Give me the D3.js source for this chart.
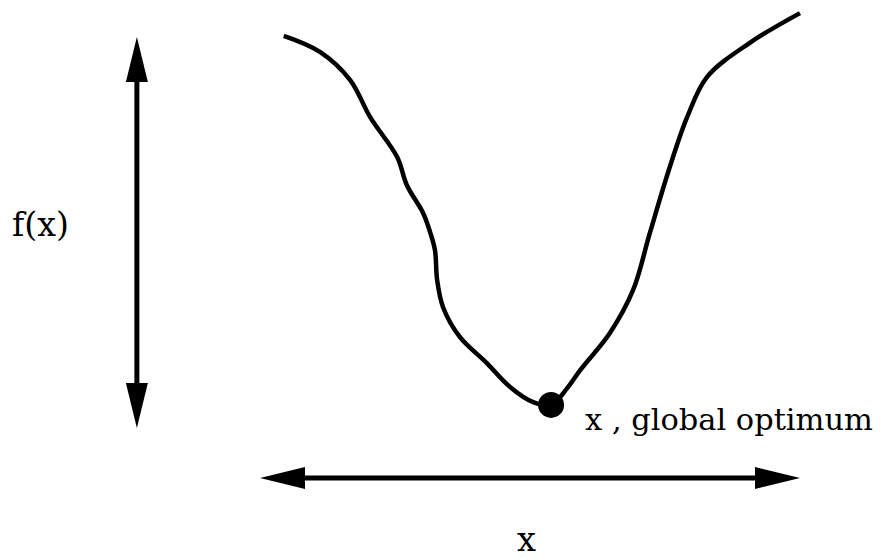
<!DOCTYPE html>
<html lang="en">
<head>
  <meta charset="UTF-8">
  <title>Global optimum</title>
  <script src="https://d3js.org/d3.v7.min.js"></script>
  <style>
    body { margin: 0; background: #fff; }
  </style>
</head>
<body>
  <svg id="chart" width="882" height="559"></svg>
  <script>
    // curve samples, in plot units (x: 0..10, f: 0..10)
    const xs = [0.44, 1.11, 1.67, 2.04, 2.54, 2.72, 3.02, 3.15, 3.24, 3.28, 3.39, 3.70, 4.20, 4.63, 5.06, 5.39,
                5.69, 5.93, 6.48, 6.91, 7.22, 7.59, 7.91, 8.28, 9.07, 10.0];
    const fs = [10.03, 9.62, 8.90, 7.95, 6.93, 6.21, 5.50, 5.01, 4.55, 3.79, 3.09, 2.33, 1.66, 1.05, 0.66, 0.59,
                1.02, 1.48, 2.43, 3.53, 4.99, 6.68, 7.95, 8.98, 9.85, 10.61];
    const optimum = { x: 5.39, f: 0.59 };
    const labels = { y: "f(x)", x: "x", opt: "x , global optimum" };

    const serif = "'DejaVu Serif', 'Liberation Serif', serif";

    const svg = d3.select("svg#chart");
    const xScale = d3.scaleLinear().domain([0, 10]).range([260, 800]);
    const yScale = d3.scaleLinear().domain([0, 10]).range([428, 37]);

    // where the two arrows sit
    const vArrowX = -2.28;
    const hArrowY = -1.28;

    const line = d3.line()
      .x((d, i) => xScale(xs[i]))
      .y((d, i) => yScale(fs[i]))
      .curve(d3.curveCatmullRom.alpha(0.5));

    svg.append("path")
      .attr("d", line(xs))
      .attr("fill", "none")
      .attr("stroke", "#000")
      .attr("stroke-width", 4.5);

    // vertical double arrow (f axis)
    const ax = xScale(vArrowX);
    const yTop = yScale(10), yBot = yScale(0);
    const headL = 45, headW = 11;
    svg.append("line")
      .attr("x1", ax).attr("x2", ax)
      .attr("y1", yTop + headL - 2).attr("y2", yBot - headL + 2)
      .attr("stroke", "#000").attr("stroke-width", 5);
    svg.append("path")
      .attr("d", `M${ax},${yTop} L${ax + headW},${yTop + headL} L${ax - headW},${yTop + headL} Z`)
      .attr("fill", "#000");
    svg.append("path")
      .attr("d", `M${ax},${yBot} L${ax + headW},${yBot - headL} L${ax - headW},${yBot - headL} Z`)
      .attr("fill", "#000");

    // horizontal double arrow (x axis)
    const ay = yScale(hArrowY);
    const xL = xScale(0), xR = xScale(10);
    svg.append("line")
      .attr("x1", xL + headL - 2).attr("x2", xR - headL + 2)
      .attr("y1", ay).attr("y2", ay)
      .attr("stroke", "#000").attr("stroke-width", 5);
    svg.append("path")
      .attr("d", `M${xL},${ay} L${xL + headL},${ay - headW} L${xL + headL},${ay + headW} Z`)
      .attr("fill", "#000");
    svg.append("path")
      .attr("d", `M${xR},${ay} L${xR - headL},${ay - headW} L${xR - headL},${ay + headW} Z`)
      .attr("fill", "#000");

    // optimum
    svg.append("circle")
      .attr("cx", xScale(optimum.x))
      .attr("cy", yScale(optimum.f))
      .attr("r", 13)
      .attr("fill", "#000");

    // text sized so it spans the same width as in the original
    function label(str, x, y, width) {
      const t = svg.append("text")
        .attr("x", x)
        .attr("y", y)
        .style("font-family", serif)
        .style("font-size", "32px")
        .text(str);
      const w = t.node().getComputedTextLength();
      t.style("font-size", (32 * width / w) + "px");
      return t;
    }

    label(labels.opt, xScale(optimum.x) + 34, yScale(optimum.f) + 25, 288);
    label(labels.y, 12, 236, 57);
    label(labels.x, (xL + xR) / 2 - 13, 551, 19);
  </script>
</body>
</html>
